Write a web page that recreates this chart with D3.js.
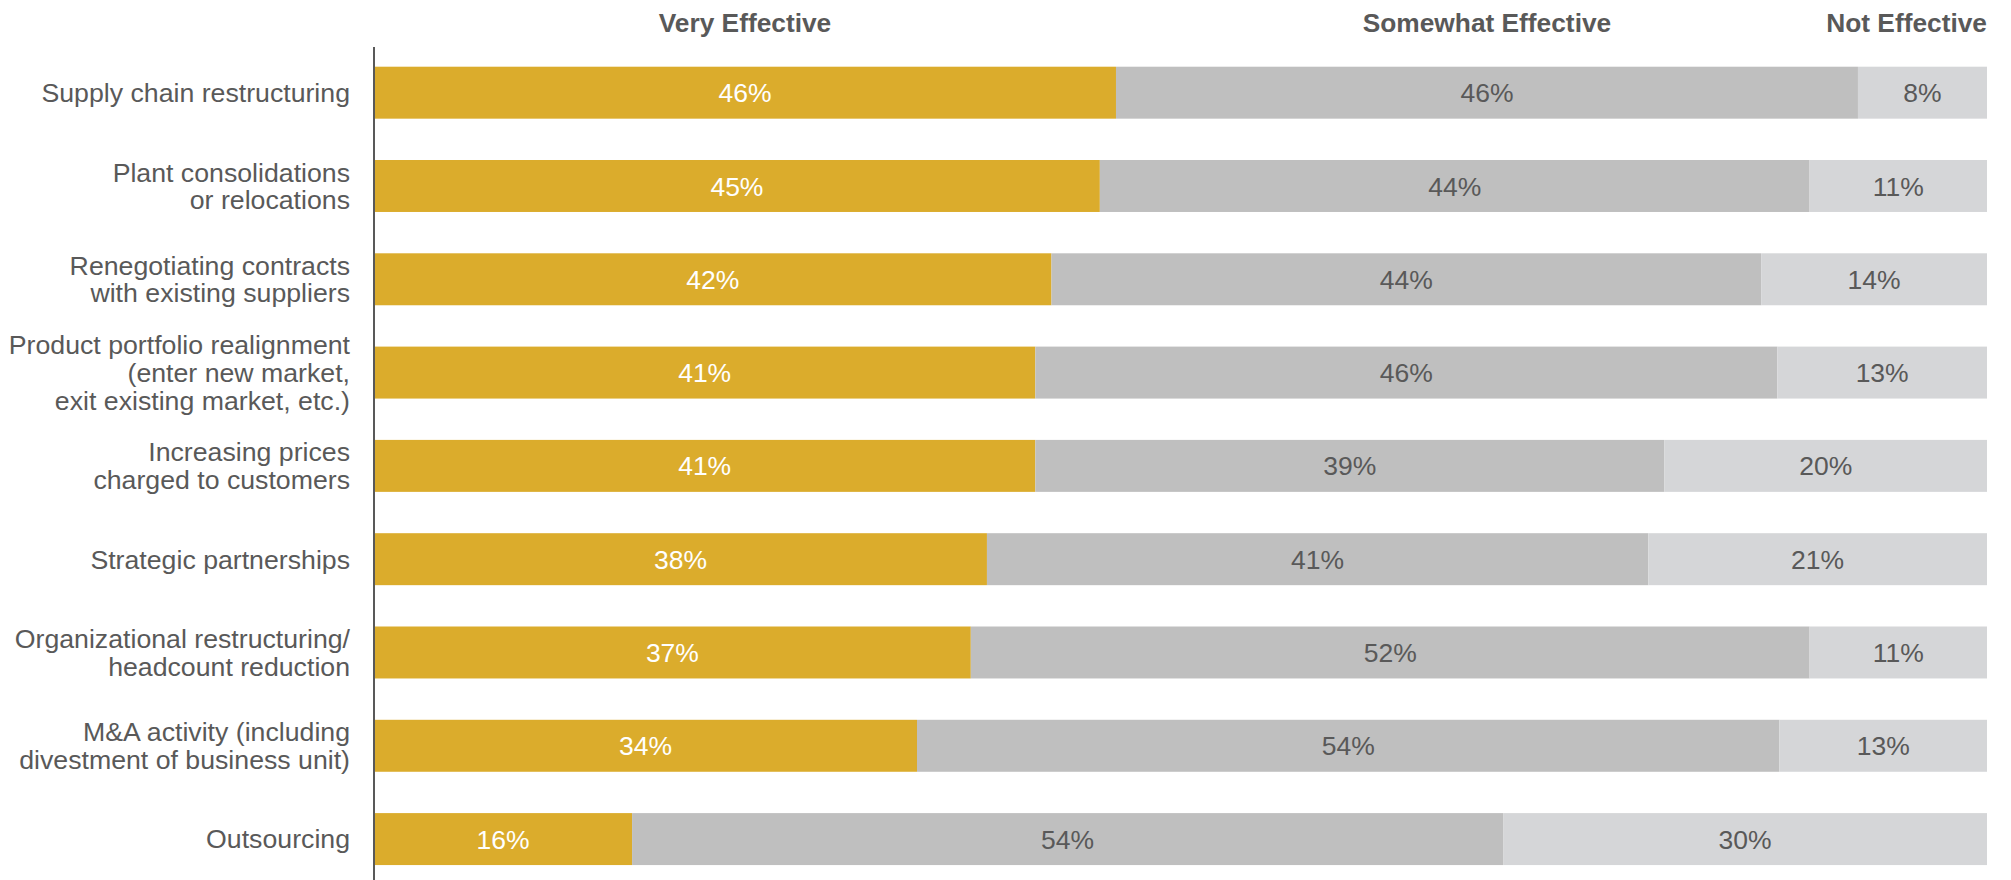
<!DOCTYPE html>
<html>
<head>
<meta charset="utf-8">
<script src="https://cdn.jsdelivr.net/npm/d3@7"></script>
<style>
  html, body { margin: 0; padding: 0; background: #fff; }
  svg { display: block; font-family: "Liberation Sans", Arial, Helvetica, sans-serif; }
</style>
</head>
<body>
<svg id="chart" width="2011" height="880"></svg>
<script>
// Survey responses: effectiveness of each cost-reduction action (percent of respondents)
const categories = [
  "Supply chain restructuring",
  "Plant consolidations\nor relocations",
  "Renegotiating contracts\nwith existing suppliers",
  "Product portfolio realignment\n(enter new market,\nexit existing market, etc.)",
  "Increasing prices\ncharged to customers",
  "Strategic partnerships",
  "Organizational restructuring/\nheadcount reduction",
  "M&A activity (including\ndivestment of business unit)",
  "Outsourcing"
];
const seriesNames = ["Very Effective", "Somewhat Effective", "Not Effective"];
const veryEffective     = [46, 45, 42, 41, 41, 38, 37, 34, 16];
const somewhatEffective = [46, 44, 44, 46, 39, 41, 52, 54, 54];
const notEffective      = [ 8, 11, 14, 13, 20, 21, 11, 13, 30];

const colors = ["#DBAC2C", "#BFBFBF", "#D5D6D8"];
const labelColors = ["#FFFFFF", "#595959", "#595959"];
const textGray = "#595959";

const rows = categories.map((c, i) => ({
  category: c,
  "Very Effective": veryEffective[i],
  "Somewhat Effective": somewhatEffective[i],
  "Not Effective": notEffective[i]
}));

const svg = d3.select("#chart");
const plotLeft = 374, plotRight = 1987, plotTop = 66.7, rowStep = 93.3;

const x = d3.scaleLinear().domain([0, 1]).range([plotLeft, plotRight]);
const y = d3.scaleBand()
  .domain(categories)
  .range([plotTop, plotTop + rowStep * (categories.length - 0.443)])
  .paddingInner(0.443)
  .paddingOuter(0);

// each bar spans the full width: segments are shares of the row total
const stacked = d3.stack()
  .keys(seriesNames)
  .offset(d3.stackOffsetExpand)(rows);

const layers = svg.append("g").selectAll("g.layer")
  .data(stacked)
  .join("g")
  .attr("class", "layer")
  .attr("fill", (d, i) => colors[i]);

layers.selectAll("rect")
  .data(d => d)
  .join("rect")
  .attr("x", d => x(d[0]))
  .attr("y", d => y(d.data.category))
  .attr("width", d => x(d[1]) - x(d[0]))
  .attr("height", y.bandwidth());

// value labels centred in each segment
svg.append("g").selectAll("g.vals")
  .data(stacked)
  .join("g")
  .attr("class", "vals")
  .attr("fill", (d, i) => labelColors[i])
  .selectAll("text")
  .data(s => s.map(d => ({ d, key: s.key })))
  .join("text")
  .attr("x", o => (x(o.d[0]) + x(o.d[1])) / 2)
  .attr("y", o => y(o.d.data.category) + y.bandwidth() / 2)
  .attr("dy", "0.36em")
  .attr("text-anchor", "middle")
  .attr("font-size", 26.5)
  .text(o => o.d.data[o.key] + "%");

// category axis with multi-line labels
const axisG = svg.append("g")
  .attr("transform", `translate(${plotLeft},0)`)
  .call(d3.axisLeft(y).tickSize(0).tickPadding(24));
axisG.select(".domain").remove();
axisG.selectAll(".tick text")
  .attr("font-size", 26.7)
  .attr("font-family", "Liberation Sans, Arial, sans-serif")
  .attr("fill", textGray)
  .each(function (d) {
    const t = d3.select(this);
    const lines = d.split("\n");
    const lh = 27.6;
    t.text(null).attr("dy", null);
    lines.forEach((ln, k) => {
      t.append("tspan")
        .attr("x", -24)
        .attr("y", (k - (lines.length - 1) / 2) * lh)
        .attr("dy", "0.35em")
        .text(ln);
    });
  });

// vertical axis rule
svg.append("line")
  .attr("x1", plotLeft).attr("x2", plotLeft)
  .attr("y1", 47).attr("y2", 880)
  .attr("stroke", textGray)
  .attr("stroke-width", 2);

// series headers, centred over the first row's segments, kept inside the plot
const firstRow = stacked.map(s => s[0]);
svg.append("g").selectAll("text")
  .data(seriesNames)
  .join("text")
  .attr("y", 31.7)
  .attr("font-size", 26.3)
  .attr("font-weight", "bold")
  .attr("fill", textGray)
  .attr("text-anchor", "middle")
  .text(d => d)
  .each(function (d, i) {
    const seg = firstRow[i];
    let cx = (x(seg[0]) + x(seg[1])) / 2;
    const w = this.getComputedTextLength();
    if (cx + w / 2 > plotRight) cx = plotRight - w / 2;
    d3.select(this).attr("x", cx);
  });
</script>
</body>
</html>
